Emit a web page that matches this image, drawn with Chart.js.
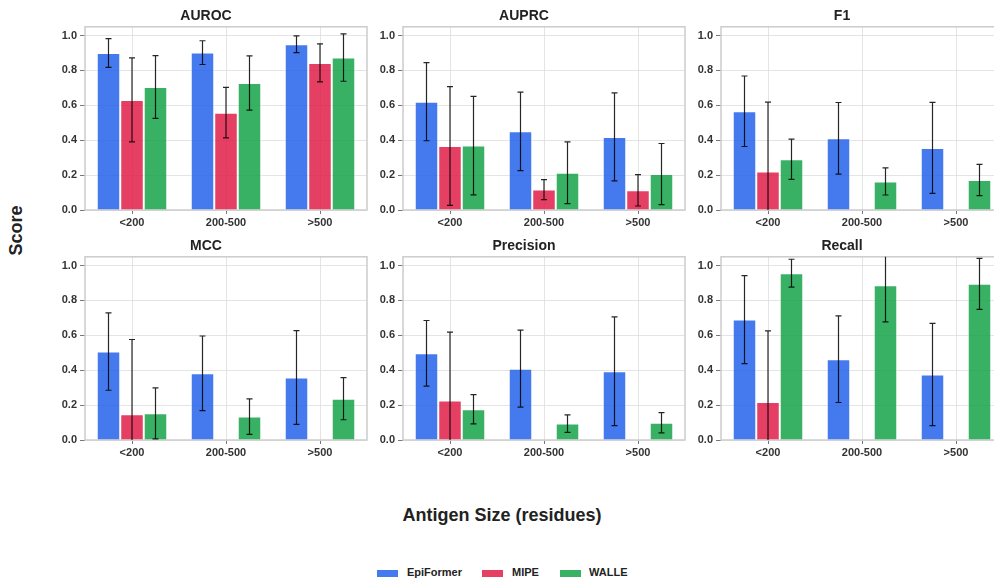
<!DOCTYPE html>
<html>
<head>
<meta charset="utf-8">
<script src="https://cdn.jsdelivr.net/npm/chart.js@4.4.1/dist/chart.umd.min.js"></script>
<style>
  body { margin: 0; background: #fff; font-family: "Liberation Sans", Arial, sans-serif; }
  #wrap { position: relative; width: 994px; height: 579px; overflow: hidden; }
  canvas { position: absolute; }
  .lbl { position: absolute; font-weight: bold; color: #222; white-space: nowrap; }
  .sw { position: absolute; width: 21px; height: 7px; }
</style>
</head>
<body>
<div id="wrap">
  <div class="lbl" style="left:-8px; top:221px; font-size:18px; transform:rotate(-90deg); width:48px; text-align:center;">Score</div>
  <div class="lbl" style="left:0; width:1004px; text-align:center; top:505px; font-size:18px;">Antigen Size (residues)</div>
  <div class="sw" style="left:377px; top:570px; background:rgba(37,99,235,0.85)"></div>
  <div class="lbl" style="left:407px; top:566px; font-size:11px;">EpiFormer</div>
  <div class="sw" style="left:482px; top:570px; background:rgba(225,29,72,0.85)"></div>
  <div class="lbl" style="left:512px; top:566px; font-size:11px;">MIPE</div>
  <div class="sw" style="left:560px; top:570px; background:rgba(22,163,74,0.85)"></div>
  <div class="lbl" style="left:589px; top:566px; font-size:11px;">WALLE</div>
</div>
<script>
const categories = ['<200', '200-500', '>500'];
const models = ['EpiFormer', 'MIPE', 'WALLE'];
const yTicks = [0, 0.2, 0.4, 0.6, 0.8, 1.0];

// means / std per model (EpiFormer, MIPE, WALLE) across size bins
const aurocMean = [[0.90, 0.902, 0.950], [0.631, 0.558, 0.843], [0.705, 0.728, 0.874]];
const aurocErr  = [[0.082, 0.068, 0.048], [0.241, 0.145, 0.109], [0.180, 0.155, 0.136]];
const auprcMean = [[0.621, 0.451, 0.419], [0.367, 0.117, 0.113], [0.369, 0.214, 0.206]];
const auprcErr  = [[0.224, 0.225, 0.252], [0.340, 0.057, 0.090], [0.282, 0.177, 0.175]];
const f1Mean    = [[0.566, 0.411, 0.356], [0.220, 0, 0], [0.291, 0.164, 0.172]];
const f1Err     = [[0.202, 0.205, 0.261], [0.398, 0, 0], [0.115, 0.078, 0.090]];
const mccMean   = [[0.507, 0.382, 0.358], [0.147, 0, 0], [0.153, 0.134, 0.237]];
const mccErr    = [[0.222, 0.214, 0.269], [0.429, 0, 0], [0.146, 0.102, 0.121]];
const precMean  = [[0.497, 0.409, 0.394], [0.226, 0, 0], [0.176, 0.094, 0.099]];
const precErr   = [[0.188, 0.221, 0.312], [0.392, 0, 0], [0.084, 0.050, 0.058]];
const recMean   = [[0.690, 0.463, 0.375], [0.218, 0, 0], [0.956, 0.887, 0.895]];
const recErr    = [[0.252, 0.248, 0.293], [0.407, 0, 0], [0.080, 0.210, 0.146]];

const colors = ['rgba(37,99,235,0.85)', 'rgba(225,29,72,0.85)', 'rgba(22,163,74,0.85)'];

const panels = [
  { title: 'AUROC', mean: aurocMean, err: aurocErr, left: 45, top: 0 },
  { title: 'AUPRC', mean: auprcMean, err: auprcErr, left: 363, top: 0 },
  { title: 'F1', mean: f1Mean, err: f1Err, left: 681, top: 0 },
  { title: 'MCC', mean: mccMean, err: mccErr, left: 45, top: 230 },
  { title: 'Precision', mean: precMean, err: precErr, left: 363, top: 230 },
  { title: 'Recall', mean: recMean, err: recErr, left: 681, top: 230 },
];

const frame = {
  id: 'frame',
  beforeDatasetsDraw(chart) {
    const a = chart.chartArea, ctx = chart.ctx;
    ctx.save();
    ctx.strokeStyle = '#cccccc';
    ctx.lineWidth = 1.5;
    ctx.strokeRect(a.left, a.top, a.right - a.left, a.bottom - a.top);
    ctx.restore();
  }
};

const errorBars = {
  id: 'errorBars',
  afterDatasetsDraw(chart) {
    const a = chart.chartArea, ctx = chart.ctx, y = chart.scales.y;
    const errs = chart.config.options.errs;
    ctx.save();
    ctx.beginPath();
    ctx.rect(a.left, a.top, a.right - a.left, a.bottom - a.top);
    ctx.clip();
    ctx.strokeStyle = 'rgba(0,0,0,0.85)';
    ctx.lineWidth = 1.2;
    chart.data.datasets.forEach((ds, d) => {
      const meta = chart.getDatasetMeta(d);
      ds.data.forEach((m, i) => {
        const e = errs[d][i];
        if (!e) return;
        const x = meta.data[i].x;
        const y1 = y.getPixelForValue(m + e), y2 = y.getPixelForValue(m - e);
        ctx.beginPath();
        ctx.moveTo(x, y1); ctx.lineTo(x, y2);
        ctx.moveTo(x - 3, y1); ctx.lineTo(x + 3, y1);
        ctx.moveTo(x - 3, y2); ctx.lineTo(x + 3, y2);
        ctx.stroke();
      });
    });
    ctx.restore();
  }
};

const wrap = document.getElementById('wrap');
panels.forEach(p => {
  const cv = document.createElement('canvas');
  cv.width = 324; cv.height = 230;
  cv.style.left = p.left + 'px'; cv.style.top = p.top + 'px';
  cv.style.width = '324px'; cv.style.height = '230px';
  wrap.appendChild(cv);

  new Chart(cv.getContext('2d'), {
    type: 'bar',
    data: {
      labels: categories,
      datasets: models.map((name, k) => ({
        label: name,
        data: p.mean[k],
        backgroundColor: colors[k],
        borderColor: 'rgba(255,255,255,0.6)',
        borderWidth: 1,
        categoryPercentage: 0.75,
        barPercentage: 1.0,
      }))
    },
    options: {
      responsive: false,
      devicePixelRatio: 1,
      animation: false,
      errs: p.err,
      layout: { padding: { left: 0, right: 2, top: 0, bottom: 0 } },
      plugins: {
        legend: { display: false },
        tooltip: { enabled: false },
        title: {
          display: true,
          text: p.title,
          color: '#222',
          font: { family: 'Liberation Sans', size: 14, weight: 'bold' },
          padding: { top: 8, bottom: 2 }
        }
      },
      scales: {
        x: {
          offset: true,
          grid: { offset: false, color: '#dddddd', lineWidth: 0.8, tickLength: 4, tickColor: '#555' },
          border: { display: false },
          ticks: { color: '#333', padding: 2, font: { family: 'Liberation Sans', size: 11, weight: 'bold' } },
          afterFit: s => { s.height = 20; }
        },
        y: {
          min: 0,
          max: 1.05,
          afterBuildTicks: s => { s.ticks = yTicks.map(v => ({ value: v })); },
          grid: { color: '#dddddd', lineWidth: 0.8, tickLength: 5, tickColor: '#555' },
          border: { display: false },
          ticks: {
            color: '#333', padding: 3,
            font: { family: 'Liberation Sans', size: 11, weight: 'bold' },
            callback: v => Number(v).toFixed(1)
          },
          afterFit: s => { s.width = 40; }
        }
      }
    },
    plugins: [frame, errorBars]
  });
});
</script>
</body>
</html>
